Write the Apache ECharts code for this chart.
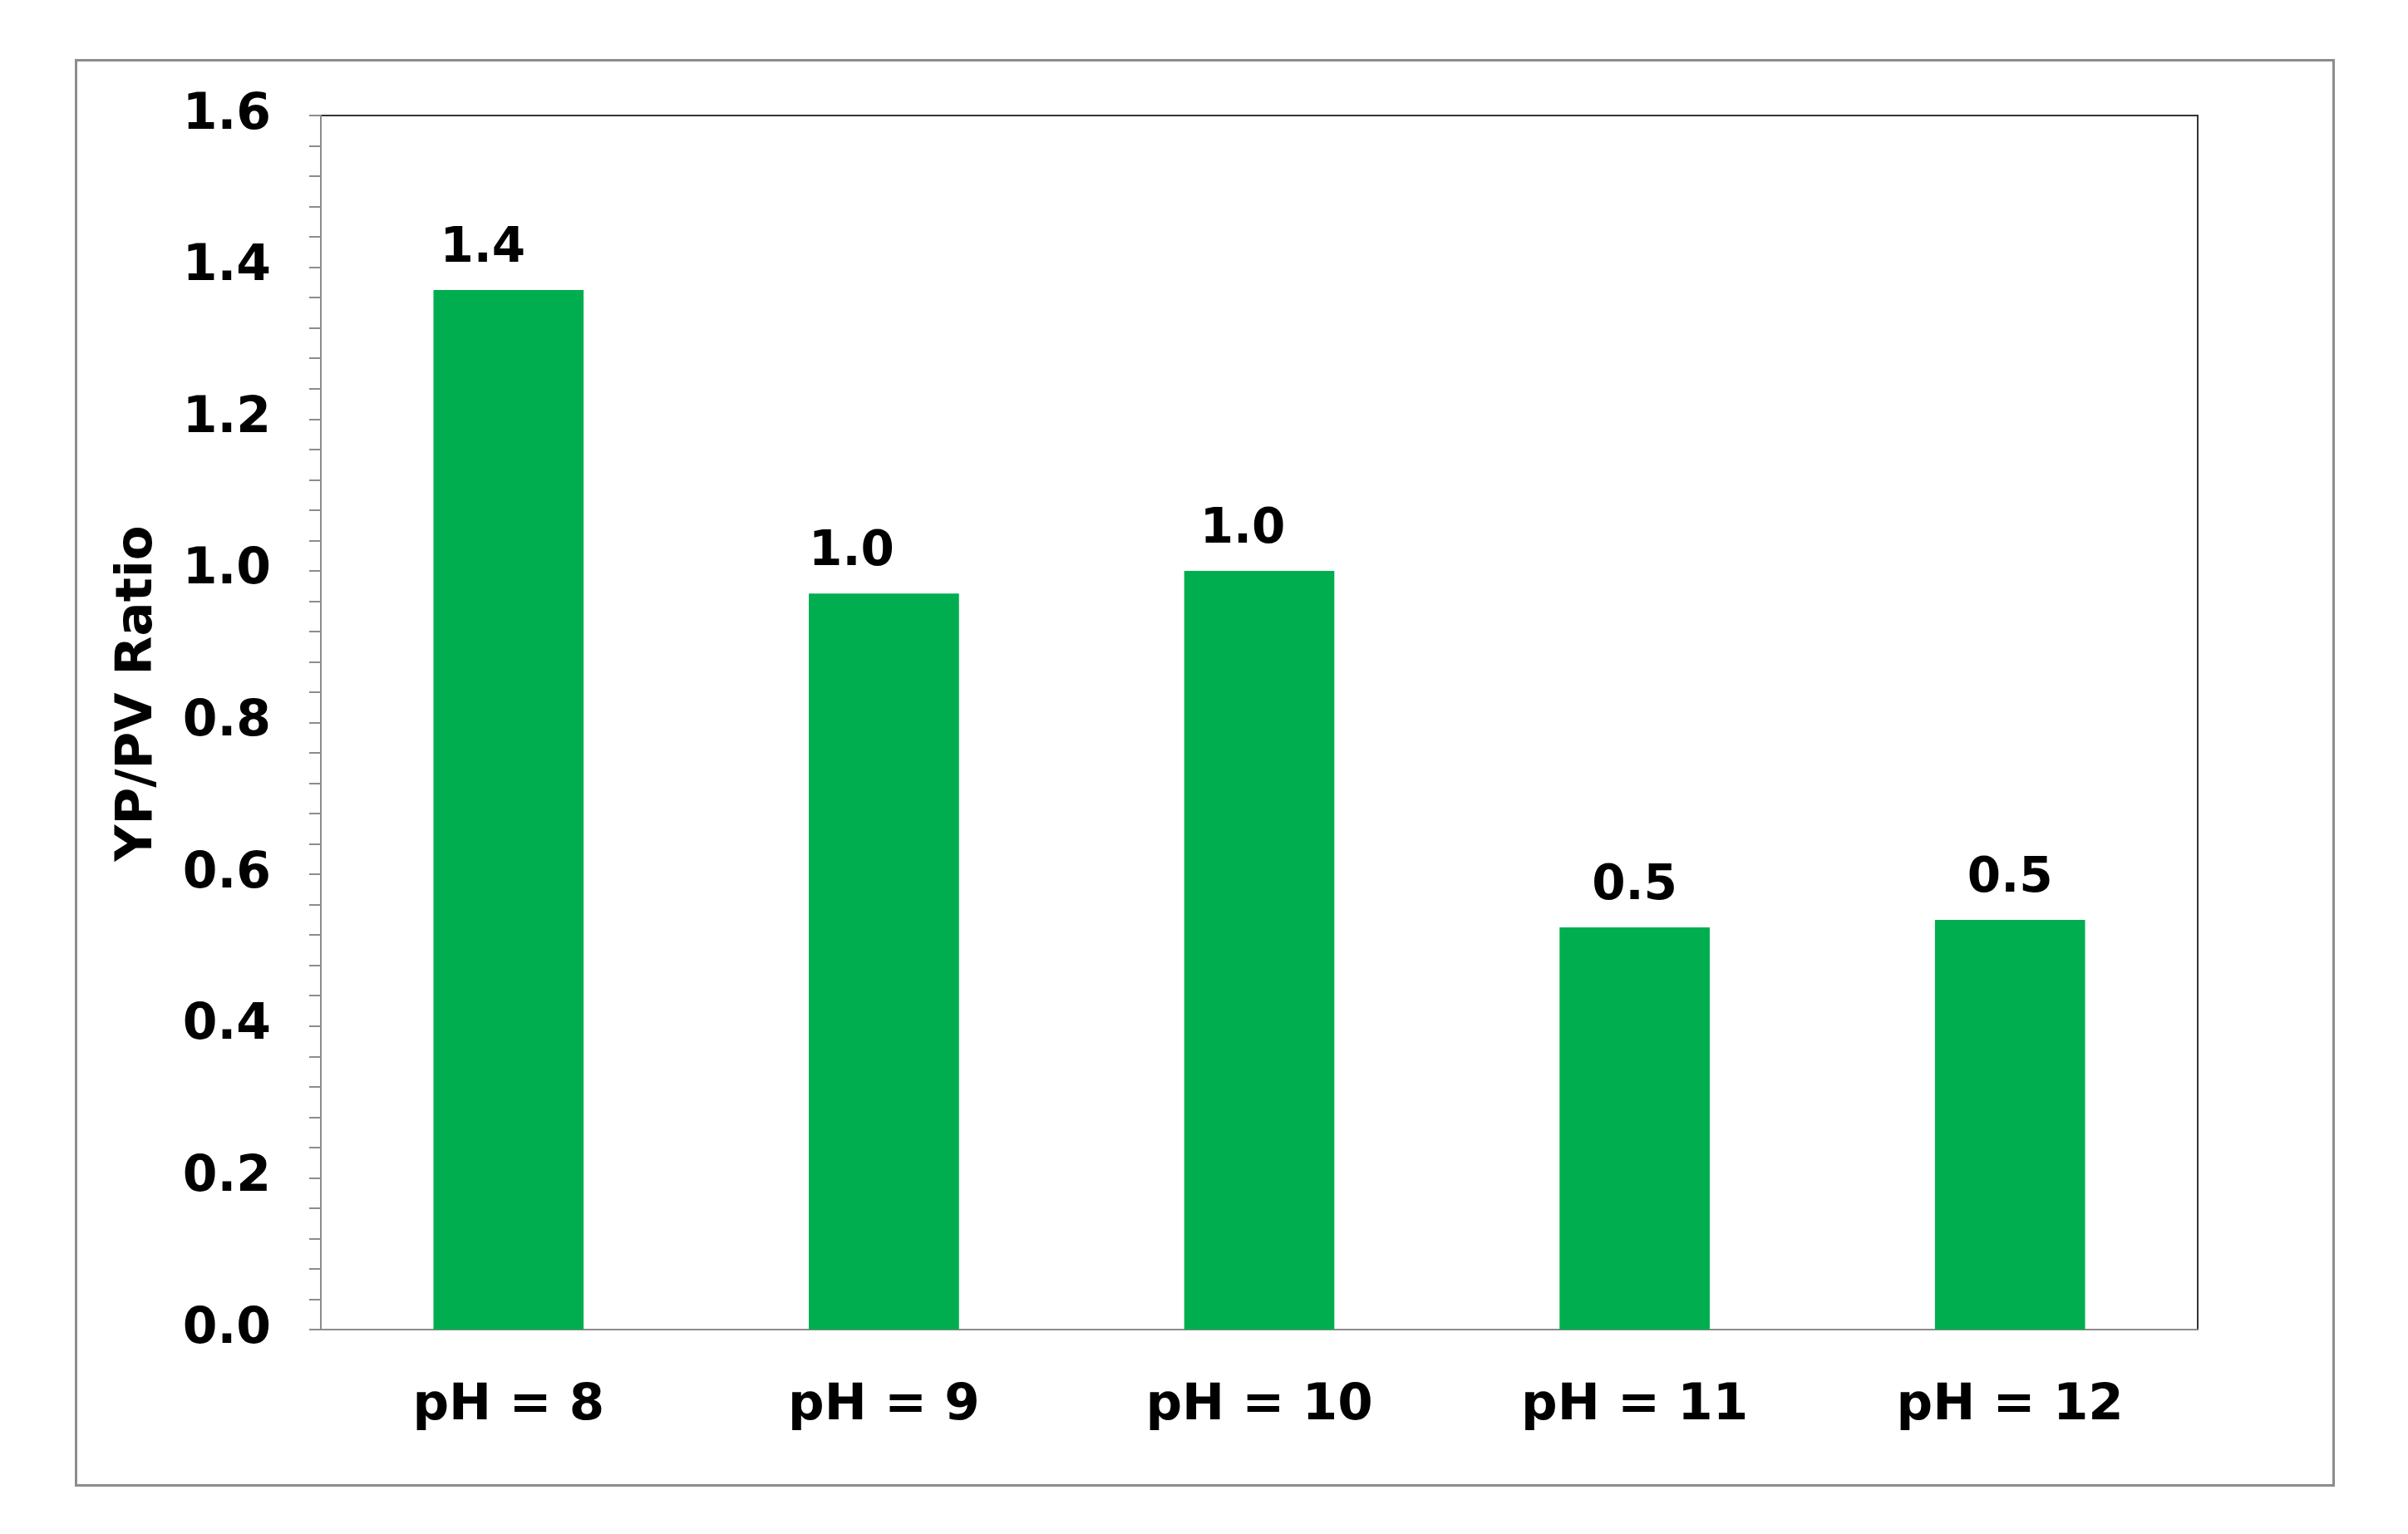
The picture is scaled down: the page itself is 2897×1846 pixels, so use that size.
<!DOCTYPE html>
<html>
<head>
<meta charset="utf-8">
<script src="https://cdn.jsdelivr.net/npm/echarts@6/dist/echarts.min.js"></script>
<style>
  html, body { margin: 0; padding: 0; background: #fff; }
  #chart { width: 2897px; height: 1846px; }
</style>
</head>
<body>
<div id="chart"></div>
<script>
// categories and values
var categories = ['pH = 8', 'pH = 9', 'pH = 10', 'pH = 11', 'pH = 12'];
var ratios = [1.37, 0.97, 1.0, 0.53, 0.54];
var yTicks = [0, 0.2, 0.4, 0.6, 0.8, 1.0, 1.2, 1.4, 1.6];
// the value labels were nudged by hand in the original, horizontal shift in px
var labelShift = [-31, -39, -20, 0, 0];

var FONT = 'DejaVu Sans';
var chart = echarts.init(document.getElementById('chart'));

var barData = ratios.map(function (v, i) {
    return { value: v, label: { offset: [labelShift[i], 0] } };
});

var option = {
    backgroundColor: '#fff',
    animation: false,
    // outer frame round the whole chart
    graphic: [{
        type: 'rect',
        left: 89, top: 70,
        shape: { width: 2716, height: 1715 },
        style: { fill: 'none', stroke: '#8c8c8c', lineWidth: 3 },
        z: -1
    }],
    grid: {
        left: 386, right: 253, top: 139, bottom: 246,
        show: true,
        borderColor: '#333',
        borderWidth: 2,
        backgroundColor: '#fff'
    },
    xAxis: {
        type: 'category',
        data: categories,
        axisLine: { lineStyle: { color: '#8c8c8c', width: 2 } },
        axisTick: { show: false },
        axisLabel: {
            margin: 62,
            color: '#000',
            fontFamily: FONT,
            fontWeight: 'bold',
            fontSize: 61
        }
    },
    yAxis: {
        type: 'value',
        min: yTicks[0],
        max: yTicks[yTicks.length - 1],
        interval: 0.2,
        name: 'YP/PV Ratio',
        nameLocation: 'middle',
        nameGap: 189,
        nameTextStyle: {
            color: '#000',
            fontFamily: FONT,
            fontWeight: 'bold',
            fontSize: 61,
            padding: [0, 0, 0, 70]
        },
        axisLine: { show: true, lineStyle: { color: '#8c8c8c', width: 2 } },
        axisTick: { show: true, inside: false, length: 14, lineStyle: { color: '#8c8c8c', width: 2 } },
        minorTick: { show: true, splitNumber: 5, length: 14, lineStyle: { color: '#8c8c8c', width: 2 } },
        splitLine: { show: false },
        axisLabel: {
            margin: 60,
            color: '#000',
            fontFamily: FONT,
            fontWeight: 'bold',
            fontSize: 60,
            formatter: function (v) { return v.toFixed(1); }
        }
    },
    series: [{
        type: 'bar',
        data: barData,
        barWidth: '40%',
        itemStyle: { color: '#00AE4F' },
        label: {
            show: true,
            position: 'top',
            distance: 20,
            color: '#000',
            fontFamily: FONT,
            fontWeight: 'bold',
            fontSize: 58,
            formatter: function (p) { return p.value.toFixed(1); }
        }
    }]
};

chart.setOption(option);
</script>
</body>
</html>
